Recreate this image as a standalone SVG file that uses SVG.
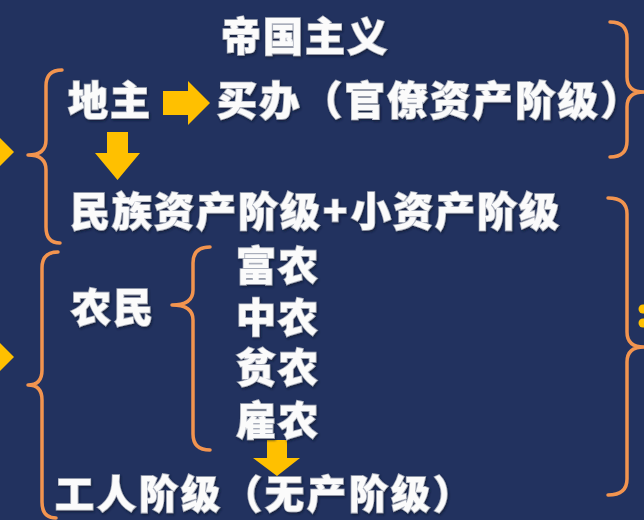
<svg xmlns="http://www.w3.org/2000/svg" width="644" height="520" viewBox="0 0 644 520">
<style>
.t{font-family:"Noto Sans CJK SC","Noto Sans",sans-serif;font-weight:900;font-size:40px;fill:#fbfbfb;stroke:#a9aebb;stroke-width:1.6px;paint-order:stroke;letter-spacing:2px}
.br{fill:none;stroke:#f2944f;stroke-width:3.5;stroke-linecap:round;stroke-linejoin:round}
.ar{fill:#ffc000}
</style>
<defs>
<filter id="sh" x="-10%" y="-20%" width="120%" height="140%">
<feDropShadow dx="1" dy="1.5" stdDeviation="0.8" flood-color="#0b1330" flood-opacity="0.8"/>
</filter>
</defs>
<rect width="644" height="520" fill="#22325f"/>
<g id="connectors">
<path class="br" d="M62,70 Q46,70 46,86 L46,140 Q46,155 28,155 Q46,155 46,170 L46,227 Q46,243 60,243"/>
<path class="br" d="M58,252 Q42,252 42,268 L42,370 Q42,385 28,385 Q42,385 42,400 L42,502 Q42,518 56,518"/>
<path class="br" d="M210,247 Q193,247 193,263 L193,290 Q193,305 172,305 Q193,305 193,320 L193,434 Q193,450 210,450"/>
<path class="br" d="M610,22 Q627,22 627,38 L627,77 Q627,92 644,92 Q627,92 627,107 L627,141 Q627,157 610,157"/>
<path class="br" d="M608,198 Q627,198 627,214 L627,332 Q627,347 644,347 Q627,347 627,362 L627,479 Q627,495 608,495"/>
<polygon class="ar" points="163,91 188,91 188,81 210,103 188,125 188,115 163,115"/>
<polygon class="ar" points="107,132 128,132 128,153 140,153 117.5,180 95,153 107,153"/>
<polygon class="ar" points="267,440 287,440 287,458 300,458 277,476 253,458 267,458"/>
<polygon class="ar" points="0,138 14,152 0,166"/>
<polygon class="ar" points="0,343 14,357 0,371"/>
<circle class="ar" cx="643" cy="309" r="4.5"/>
<circle class="ar" cx="643" cy="323" r="4.5"/>
</g>
<g filter="url(#sh)">
<g id="imperialism"><text class="t" x="221" y="51">帝国主义</text></g>
<g id="landlord"><text class="t" x="68" y="115">地主</text></g>
<g id="comprador"><text class="t" x="217" y="115" style="letter-spacing:2.6px">买办（官僚资产阶级）</text></g>
<g id="bourgeoisie"><text class="t" x="70" y="226">民族资产阶级<tspan x="323">+</tspan><tspan x="351">小资产阶级</tspan></text></g>
<g id="peasants"><text class="t" x="71" y="322">农民</text></g>
<g id="rich"><text class="t" x="236" y="280">富农</text></g>
<g id="middle"><text class="t" x="236" y="332">中农</text></g>
<g id="poor"><text class="t" x="236" y="382">贫农</text></g>
<g id="hired"><text class="t" x="236" y="435">雇农</text></g>
<g id="workers"><text class="t" x="55" y="508" style="font-size:39px;letter-spacing:3px">工人阶级（无产阶级）</text></g>
</g>
</svg>
